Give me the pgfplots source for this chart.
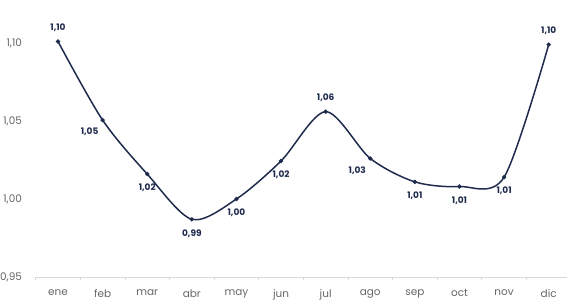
\documentclass[border=0pt]{standalone}
\usepackage{pgfplots}
\pgfplotsset{compat=1.18}
\usepackage{fontspec}
\setmainfont{Poppins}
\definecolor{navy}{HTML}{1F2B4D}
\definecolor{ticktext}{HTML}{666666}
\definecolor{axisgray}{HTML}{D9D9D9}
\begin{document}
\begin{tikzpicture}
\begin{axis}[
  name=ax,
  scale only axis,
  width=531.3bp, height=277bp,
  xmin=-0.5, xmax=11.41,
  ymin=0.95, ymax=1.1276,
  axis lines*=left,
  x axis line style={axisgray, line width=1pt, -},
  y axis line style={draw=none},
  xtick={0,...,11},
  xticklabels={ene,feb,mar,abr,may,jun,jul,ago,sep,oct,nov,dic},
  minor xtick={-0.5,0.5,...,10.5},
  major x tick style={draw=none},
  minor x tick style={axisgray, line width=0.8pt},
  minor tick length=3bp,
  tick align=outside,
  ytick={0.95,1.00,1.05,1.10},
  ytick style={draw=none},
  /pgf/number format/.cd, use comma, fixed, fixed zerofill, precision=2, assume math mode=true,
  /pgfplots/.cd,
  ticklabel style={font=\fontsize{10.5}{12}\selectfont, text=ticktext},
  xticklabel style={yshift=-5bp},
  yticklabel style={xshift=-6bp},
  clip=false,
]
\addplot[navy, line width=1.5pt, smooth, tension=0.5, mark=*, mark size=1.3pt, mark options={navy}] coordinates {
(0,1.101) (1,1.0506) (2,1.016) (3,0.987) (4,1.000) (5,1.0244) (6,1.056) (7,1.026) (8,1.011) (9,1.008) (10,1.014) (11,1.099)
};
% labels above
\addplot[draw=none, mark=none, nodes near coords, point meta=explicit symbolic,
  every node near coord/.append style={anchor=center, yshift=14bp, font=\bfseries\fontsize{9}{10}\selectfont, text=navy}]
  table[meta=l] {
x y l
0 1.101 1,10
6 1.056 1,06
11 1.099 1,10
};
% labels below
\addplot[draw=none, mark=none, nodes near coords, point meta=explicit symbolic,
  every node near coord/.append style={anchor=center, yshift=-14bp, font=\bfseries\fontsize{9}{10}\selectfont, text=navy}]
  table[meta=l] {
x y l
2 1.016 1,02
3 0.987 0,99
4 1.000 1,00
5 1.0244 1,02
8 1.011 1,01
9 1.008 1,01
10 1.014 1,01
};
% labels below left
\addplot[draw=none, mark=none, nodes near coords, point meta=explicit symbolic,
  every node near coord/.append style={anchor=center, yshift=-12bp, xshift=-13bp, font=\bfseries\fontsize{9}{10}\selectfont, text=navy}]
  table[meta=l] {
x y l
1 1.0506 1,05
7 1.026 1,03
};
\end{axis}
\pgfresetboundingbox
\path (ax.south west) ++(-35.7bp,-24bp) rectangle (ax.north east);
\end{tikzpicture}
\end{document}
